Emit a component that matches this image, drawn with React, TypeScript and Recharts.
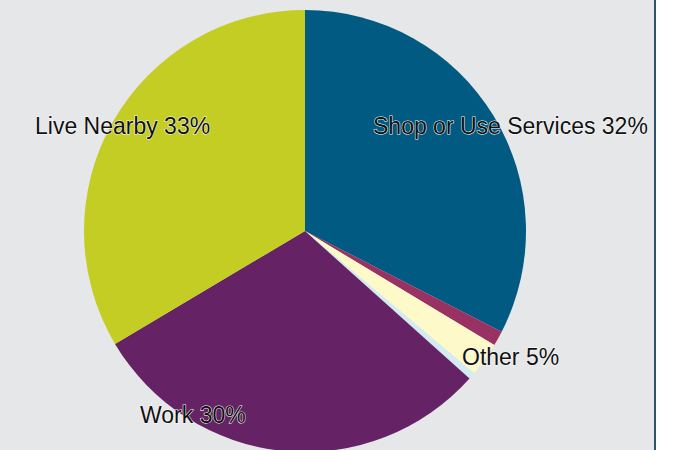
import React from 'react';
import { PieChart, Pie, Cell } from 'recharts';

const categories = ['Shop or Use Services', 'Other A', 'Other', 'Other C', 'Work', 'Live Nearby'];
const values = [32.5, 1.1, 2.5, 0.5, 29.8, 33.5];
const labels = ['Shop or Use Services 32%', '', 'Other 5%', '', 'Work 30%', 'Live Nearby 33%'];
const colors = ['#005a82', '#993163', '#fdf9c8', '#d3ecf3', '#652265', '#c3cd24'];

// label placement relative to pie centre
const labelOffsets: Record<number, [number, number]> = {
  0: [68, -105],
  2: [157, 126],
  4: [-165, 184],
  5: [-270, -105],
};

const data = categories.map((name, i) => ({ name, value: values[i], label: labels[i] }));

const renderLabel = (props: any) => {
  const { cx, cy, index } = props;
  const off = labelOffsets[index];
  if (!off || !labels[index]) return null;
  return (
    <text
      x={cx + off[0]}
      y={cy + off[1]}
      textAnchor="start"
      dominantBaseline="central"
      fill="#111"
      stroke="#ffffff"
      strokeWidth={1}
      paintOrder="stroke"
      style={{ fontFamily: '"Liberation Sans", Arial, sans-serif', fontSize: 23 }}
    >
      {labels[index]}
    </text>
  );
};

const App: React.FC = () => {
  return (
    <div style={{ position: 'fixed', left: 0, top: 0, width: 679, height: 450, background: '#ffffff', overflow: 'hidden' }}>
      <div style={{ position: 'absolute', left: 0, top: 0, width: 654, height: 450, background: '#e6e7e9', borderRight: '2px solid #2a5470' }} />
      <div style={{ position: 'absolute', left: 0, top: 0 }}>
        <PieChart width={679} height={460} margin={{ top: 0, right: 0, bottom: 0, left: 0 }}>
          <Pie
            data={data}
            dataKey="value"
            nameKey="name"
            cx={305}
            cy={231}
            outerRadius={221}
            startAngle={90}
            endAngle={-270}
            stroke="none"
            label={renderLabel}
            labelLine={false}
            isAnimationActive={false}
          >
            {data.map((d, i) => (
              <Cell key={d.name} fill={colors[i]} />
            ))}
          </Pie>
        </PieChart>
      </div>
    </div>
  );
};

export default App;
